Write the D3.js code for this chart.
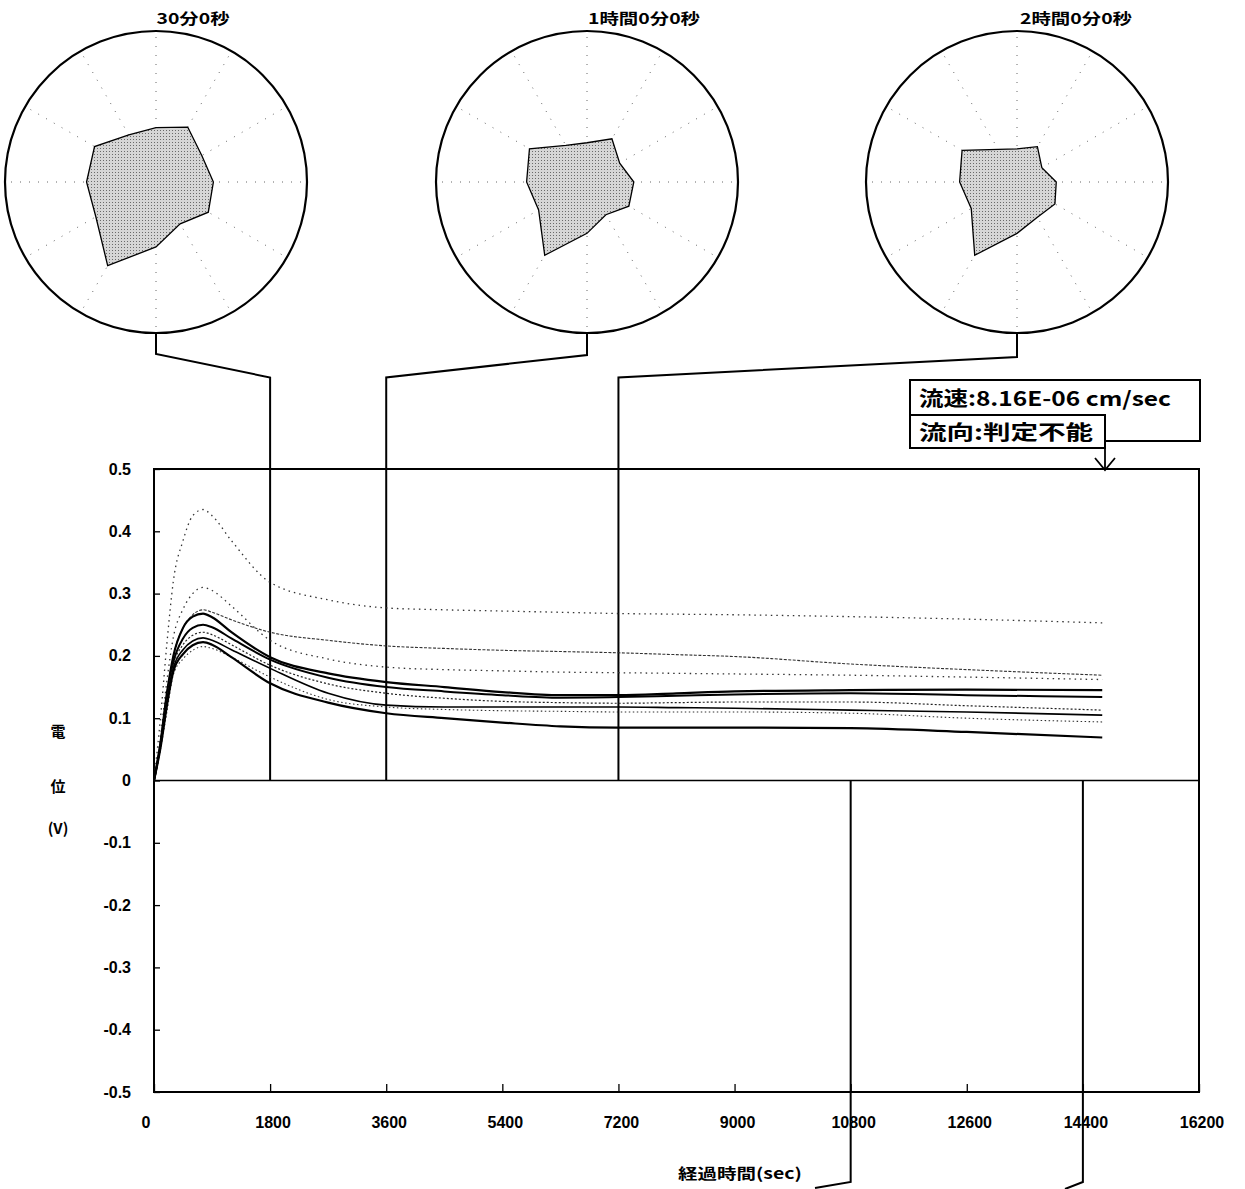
<!DOCTYPE html>
<html><head><meta charset="utf-8">
<script src="https://cdn.jsdelivr.net/npm/d3@7"></script>
<style>body{margin:0;background:#fff}</style>
</head><body>
<svg id="c" width="1245" height="1189" xmlns="http://www.w3.org/2000/svg"></svg>
<script>
// ---------------- data ----------------
const times = [0,100,200,300,450,600,760,900,1200,1800,2700,3600,4500,5400,6300,7200,8100,9000,10800,12600,14700];
const seriesA = [0,0.10,0.22,0.32,0.385,0.425,0.435,0.425,0.385,0.318,0.29,0.277,0.274,0.272,0.27,0.268,0.267,0.266,0.263,0.259,0.253];
const seriesB = [0,0.07,0.16,0.23,0.275,0.30,0.31,0.305,0.28,0.225,0.195,0.182,0.178,0.176,0.174,0.173,0.172,0.171,0.169,0.166,0.162];
const seriesC = [0,0.06,0.14,0.20,0.245,0.266,0.274,0.27,0.258,0.238,0.225,0.216,0.212,0.209,0.207,0.205,0.202,0.199,0.187,0.178,0.169];
const seriesD = [0,0.06,0.14,0.20,0.245,0.263,0.268,0.262,0.238,0.198,0.172,0.158,0.15,0.142,0.137,0.137,0.14,0.143,0.145,0.146,0.145];
const seriesE = [0,0.058,0.135,0.19,0.228,0.245,0.25,0.246,0.228,0.194,0.165,0.15,0.143,0.137,0.133,0.134,0.136,0.138,0.14,0.137,0.134];
const seriesF = [0,0.055,0.13,0.185,0.218,0.233,0.238,0.234,0.218,0.185,0.155,0.14,0.132,0.127,0.125,0.124,0.125,0.126,0.126,0.12,0.113];
const seriesG = [0,0.055,0.125,0.18,0.21,0.224,0.229,0.225,0.21,0.18,0.14,0.121,0.118,0.118,0.118,0.118,0.117,0.116,0.113,0.11,0.105];
const seriesH = [0,0.05,0.11,0.17,0.195,0.209,0.215,0.212,0.198,0.166,0.13,0.118,0.114,0.112,0.111,0.11,0.11,0.11,0.108,0.10,0.094];
const seriesI = [0,0.052,0.12,0.175,0.203,0.217,0.222,0.218,0.198,0.156,0.125,0.108,0.10,0.093,0.087,0.085,0.085,0.085,0.084,0.078,0.069];
const seriesList = [seriesA,seriesB,seriesC,seriesD,seriesE,seriesF,seriesG,seriesH,seriesI];

const yTicks = [0.5,0.4,0.3,0.2,0.1,0,-0.1,-0.2,-0.3,-0.4,-0.5];
const yTickLabels = ["0.5","0.4","0.3","0.2","0.1","0","-0.1","-0.2","-0.3","-0.4","-0.5"];
const xTicks = [0,1800,3600,5400,7200,9000,10800,12600,14400,16200];
const xTickLabels = ["0","1800","3600","5400","7200","9000","10800","12600","14400","16200"];
const yTitle = ["電","位","(V)"];
const xTitle = "経過時間(sec)";

const radarAngles = [0,30,60,90,120,150,180,210,240,270,300,330];
const radar30m = [0.38,0.35,0.42,0.36,0.36,0.47,0.46,0.46,0.64,0.43,0.32,0.40];
const radar1h  = [0.31,0.25,0.33,0.26,0.28,0.44,0.40,0.37,0.56,0.34,0.25,0.32];
const radar2h  = [0.26,0.19,0.27,0.22,0.25,0.42,0.38,0.35,0.56,0.34,0.27,0.29];
const radarData = [radar30m, radar1h, radar2h];
const radarTitles = ["30分0秒","1時間0分0秒","2時間0分0秒"];
const radarTimes = [1800,3600,7200];
const lowerMarkerTimes = [10800,14400];
const flowSpeed = "流速:8.16E-06 cm/sec";
const flowDir = "流向:判定不能";

// ---------------- styles / layout ----------------
const seriesStyles = [
  {w:1.3, dash:"1.5,4", color:"#333"},
  {w:1.3, dash:"1.5,4", color:"#333"},
  {w:1.1, dash:"3,1.5", color:"#333"},
  {w:2.2, dash:null, color:"#000"},
  {w:2.0, dash:null, color:"#000"},
  {w:1.2, dash:"2,2", color:"#222"},
  {w:1.6, dash:null, color:"#000"},
  {w:1.1, dash:"1.5,2.5", color:"#333"},
  {w:2.2, dash:null, color:"#000"}
];
const svg = d3.select("#c");
const x = d3.scaleLinear().domain([0,16200]).range([154,1199]);
const y = d3.scaleLinear().domain([-0.5,0.5]).range([1092,469]);
const bold = "bold";
const numFont = "'Liberation Sans', Arial, sans-serif";
const jpFont = "'Noto Sans CJK JP', sans-serif";

// pattern for radar fill
const defs = svg.append("defs");
const pat = defs.append("pattern").attr("id","stip").attr("width",3).attr("height",3).attr("patternUnits","userSpaceOnUse");
pat.append("rect").attr("width",3).attr("height",3).attr("fill","#d6d6d6");
pat.append("rect").attr("x",1).attr("y",1).attr("width",1).attr("height",1).attr("fill","#6a6a6a");

// ---------------- radar charts ----------------
const centers = [[156,182],[587,182],[1017,182]];
const R = 151;
const rScale = d3.scaleLinear().domain([0,1]).range([0,R]);
const titleLens = [73,112,112];
const titleX = [193,644,1076];
radarData.forEach((vals,i)=>{
  const [cx,cy] = centers[i];
  const g = svg.append("g");
  g.append("circle").attr("cx",cx).attr("cy",cy).attr("r",R).attr("fill","#fff").attr("stroke","#000").attr("stroke-width",2.2);
  radarAngles.forEach(a=>{
    const rad = a*Math.PI/180;
    g.append("line").attr("x1",cx).attr("y1",cy)
      .attr("x2",cx+rScale(1)*Math.cos(rad)).attr("y2",cy-rScale(1)*Math.sin(rad))
      .attr("stroke","#666").attr("stroke-width",1).attr("stroke-dasharray","1,8");
  });
  const pts = radarAngles.map((a,k)=>({a:a*Math.PI/180, v:vals[k]}));
  const line = d3.line().x(d=>cx+rScale(d.v)*Math.cos(d.a)).y(d=>cy-rScale(d.v)*Math.sin(d.a)).curve(d3.curveLinearClosed);
  g.append("path").attr("d",line(pts)).attr("fill","url(#stip)").attr("stroke","#000").attr("stroke-width",1.3);
  g.append("text").attr("x",titleX[i]).attr("y",24).attr("text-anchor","middle")
    .attr("font-family",jpFont).attr("font-weight",bold).attr("font-size",15)
    .attr("textLength",titleLens[i]).attr("lengthAdjust","spacingAndGlyphs").text(radarTitles[i]);
  // connector
  const bottom = cy+R;
  const kneeY = [354,355,357][i];
  const p = d3.path();
  p.moveTo(cx,bottom); p.lineTo(cx,kneeY); p.lineTo(x(radarTimes[i]),377.5); p.lineTo(x(radarTimes[i]),y(0));
  svg.append("path").attr("d",p.toString()).attr("fill","none").attr("stroke","#000").attr("stroke-width",2);
});

// ---------------- plot frame ----------------
svg.append("rect").attr("x",x(0)).attr("y",y(0.5)).attr("width",x(16200)-x(0)).attr("height",y(-0.5)-y(0.5))
  .attr("fill","none").attr("stroke","#000").attr("stroke-width",2);
svg.append("line").attr("x1",x(0)).attr("x2",x(16200)).attr("y1",y(0)).attr("y2",y(0)).attr("stroke","#000").attr("stroke-width",1.6);

// y axis ticks (inside)
const yAxis = d3.axisRight(y).tickValues(yTicks).tickSize(6).tickFormat("");
svg.append("g").attr("transform",`translate(${x(0)},0)`).call(yAxis)
  .call(g=>g.select(".domain").remove()).selectAll("line").attr("stroke-width",1.3);
yTicks.forEach((t,i)=>{
  svg.append("text").attr("x",131).attr("y",y(t)+5.5).attr("text-anchor","end")
    .attr("font-family",numFont).attr("font-weight",bold).attr("font-size",16).text(yTickLabels[i]);
});
// x axis ticks (inside)
const xAxis = d3.axisTop(x).tickValues(xTicks).tickSize(8).tickFormat("");
svg.append("g").attr("transform",`translate(0,${y(-0.5)})`).call(xAxis)
  .call(g=>g.select(".domain").remove()).selectAll("line").attr("stroke-width",1.3);
xTicks.forEach((t,i)=>{
  svg.append("text").attr("x",x(t)+(t===0?-8:3)).attr("y",1128).attr("text-anchor","middle")
    .attr("font-family",numFont).attr("font-weight",bold).attr("font-size",16).text(xTickLabels[i]);
});
// axis titles
const yTitleY = [737,792,834];
yTitle.forEach((s,i)=>{
  svg.append("text").attr("x",58).attr("y",yTitleY[i]).attr("text-anchor","middle")
    .attr("font-family",jpFont).attr("font-weight",bold).attr("font-size",15).text(s);
});
svg.append("text").attr("x",740).attr("y",1179).attr("text-anchor","middle")
  .attr("font-family",jpFont).attr("font-weight",bold).attr("font-size",15)
  .attr("textLength",124).attr("lengthAdjust","spacingAndGlyphs").text(xTitle);

// ---------------- data lines ----------------
const lineGen = d3.line().x((d,k)=>x(times[k])).y(d=>y(d)).curve(d3.curveMonotoneX);
seriesList.forEach((s,i)=>{
  const st = seriesStyles[i];
  svg.append("path").attr("d",lineGen(s)).attr("fill","none")
    .attr("stroke",st.color).attr("stroke-width",st.w)
    .attr("stroke-dasharray",st.dash).attr("stroke-linejoin","round");
});

// ---------------- lower markers ----------------
const hookEnd = [[815,1188],[1065,1189]];
lowerMarkerTimes.forEach((t,i)=>{
  const p = d3.path();
  p.moveTo(x(t),y(0)); p.lineTo(x(t),1182); p.lineTo(hookEnd[i][0],hookEnd[i][1]);
  svg.append("path").attr("d",p.toString()).attr("fill","none").attr("stroke","#000").attr("stroke-width",2);
});

// ---------------- legend boxes ----------------
svg.append("rect").attr("x",910).attr("y",380).attr("width",290).attr("height",61).attr("fill","#fff").attr("stroke","#000").attr("stroke-width",2);
svg.append("rect").attr("x",910).attr("y",415).attr("width",195).attr("height",33).attr("fill","#fff").attr("stroke","#000").attr("stroke-width",2);
svg.append("text").attr("x",919).attr("y",406).attr("font-family",jpFont).attr("font-weight",bold).attr("font-size",20)
  .attr("textLength",252).attr("lengthAdjust","spacingAndGlyphs").text(flowSpeed);
svg.append("text").attr("x",919).attr("y",440).attr("font-family",jpFont).attr("font-weight",bold).attr("font-size",20)
  .attr("textLength",174).attr("lengthAdjust","spacingAndGlyphs").text(flowDir);
svg.append("line").attr("x1",1105).attr("x2",1105).attr("y1",448).attr("y2",470).attr("stroke","#000").attr("stroke-width",1.8);
svg.append("path").attr("d","M1095,458L1105,470L1115,458").attr("fill","none").attr("stroke","#000").attr("stroke-width",1.8);
</script>
</body></html>
